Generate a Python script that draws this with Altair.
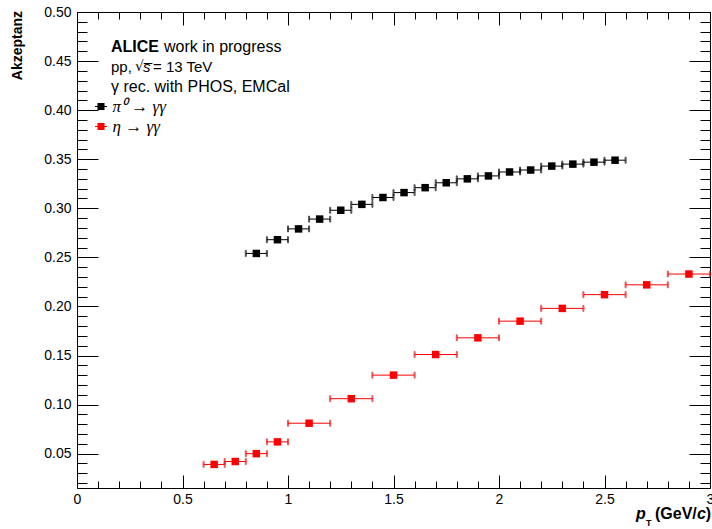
import altair as alt
import pandas as pd

# ---------------- data ----------------
series_names = ["π⁰ → γγ", "η → γγ"]
series_colors = ["#000000", "#ff0000"]

pi0_lo = [0.8, 0.9, 1.0, 1.1, 1.2, 1.3, 1.4, 1.5, 1.6, 1.7, 1.8, 1.9, 2.0, 2.1, 2.2, 2.3, 2.4, 2.5]
pi0_hi = [0.9, 1.0, 1.1, 1.2, 1.3, 1.4, 1.5, 1.6, 1.7, 1.8, 1.9, 2.0, 2.1, 2.2, 2.3, 2.4, 2.5, 2.6]
pi0_val = [0.254, 0.268, 0.279, 0.289, 0.298, 0.304, 0.311, 0.316, 0.321, 0.326,
           0.330, 0.333, 0.337, 0.339, 0.343, 0.345, 0.347, 0.349]

eta_lo = [0.6, 0.7, 0.8, 0.9, 1.0, 1.2, 1.4, 1.6, 1.8, 2.0, 2.2, 2.4, 2.6, 2.8]
eta_hi = [0.7, 0.8, 0.9, 1.0, 1.2, 1.4, 1.6, 1.8, 2.0, 2.2, 2.4, 2.6, 2.8, 3.0]
eta_val = [0.039, 0.042, 0.050, 0.062, 0.081, 0.106, 0.130, 0.151, 0.168, 0.185,
           0.198, 0.212, 0.222, 0.233]

x_major = [0, 0.5, 1, 1.5, 2, 2.5, 3]
x_minor = [0.1, 0.2, 0.3, 0.4, 0.6, 0.7, 0.8, 0.9, 1.1, 1.2, 1.3, 1.4, 1.6, 1.7, 1.8, 1.9,
           2.1, 2.2, 2.3, 2.4, 2.6, 2.7, 2.8, 2.9]
y_major = [0.05, 0.10, 0.15, 0.20, 0.25, 0.30, 0.35, 0.40, 0.45, 0.50]
y_minor = [0.02, 0.03, 0.04, 0.06, 0.07, 0.08, 0.09, 0.11, 0.12, 0.13, 0.14, 0.16, 0.17, 0.18,
           0.19, 0.21, 0.22, 0.23, 0.24, 0.26, 0.27, 0.28, 0.29, 0.31, 0.32, 0.33, 0.34, 0.36,
           0.37, 0.38, 0.39, 0.41, 0.42, 0.43, 0.44, 0.46, 0.47, 0.48, 0.49]

x_domain = [0, 3]
y_domain = [0.015, 0.5]

# ---------------- table ----------------
rows = []
for lo, hi, v in zip(pi0_lo, pi0_hi, pi0_val):
    rows.append({"series": series_names[0], "lo": lo, "hi": hi, "x": (lo + hi) / 2, "y": v})
for lo, hi, v in zip(eta_lo, eta_hi, eta_val):
    rows.append({"series": series_names[1], "lo": lo, "hi": hi, "x": (lo + hi) / 2, "y": v})
df = pd.DataFrame(rows)

W, H = 633, 476
FONT = "Liberation Sans"

xs = alt.Scale(domain=x_domain, nice=False, zero=False)
ys = alt.Scale(domain=y_domain, nice=False, zero=False)
# colour scale for the markers (carries the legend)
cs = alt.Scale(domain=series_names, range=series_colors)
# same mapping for the error bars (listed in reverse so it is kept as a separate, legend-less scale)
cs_err = alt.Scale(domain=series_names[::-1], range=series_colors[::-1])


def tick_axis(orient, values, size, labels=False, fmt="~g", pad=4):
    kw = dict(orient=orient, values=values, tickSize=size, offset=-size, domain=False,
              grid=False, labels=labels, title=None, ticks=True, tickColor="black",
              tickWidth=1, labelFont=FONT, labelFontSize=14, labelColor="black",
              labelPadding=pad, format=fmt)
    if orient in ("bottom", "top"):
        kw["labelFlush"] = False
    return alt.Axis(**kw)


base = alt.Chart(df)

rules = base.mark_rule(strokeWidth=1).encode(
    x=alt.X("lo:Q", scale=xs, axis=tick_axis("bottom", x_major, 13, labels=True, pad=4)),
    x2="hi:Q",
    y=alt.Y("y:Q", scale=ys, axis=tick_axis("left", y_major, 21, labels=True, fmt=".2f", pad=6)),
    stroke=alt.Stroke("series:N", scale=cs_err, legend=None),
)

caps_lo = base.mark_tick(orient="vertical", size=6, thickness=1).encode(
    x=alt.X("lo:Q", scale=xs, axis=tick_axis("bottom", x_minor, 7)),
    y=alt.Y("y:Q", scale=ys, axis=tick_axis("left", y_minor, 10)),
    stroke=alt.Stroke("series:N", scale=cs_err, legend=None),
)

caps_hi = base.mark_tick(orient="vertical", size=6, thickness=1).encode(
    x=alt.X("hi:Q", scale=xs, axis=tick_axis("top", x_major, 13)),
    y=alt.Y("y:Q", scale=ys, axis=tick_axis("right", y_major, 21)),
    stroke=alt.Stroke("series:N", scale=cs_err, legend=None),
)

leg = alt.Legend(
    orient="none", legendX=15.5, legendY=86, title=None, padding=0,
    symbolType="M-0.8,-0.07H0.8V0.07H-0.8Z M-0.47,-0.47H0.47V0.47H-0.47Z",
    symbolSize=225, symbolStrokeWidth=0,
    labelFont="Liberation Serif", labelFontStyle="italic",
    labelFontSize=17, labelColor="black", labelOffset=3, rowPadding=2,
)

squares = base.mark_square(size=56, filled=True, opacity=1).encode(
    x=alt.X("x:Q", scale=xs, axis=tick_axis("top", x_minor, 7)),
    y=alt.Y("y:Q", scale=ys, axis=tick_axis("right", y_minor, 10)),
    color=alt.Color("series:N", scale=cs, legend=leg),
)


def label(txt, x, y, size=16, weight="normal", style="normal", align="left",
          baseline="middle", angle=0, font=FONT):
    return alt.Chart(alt.Data(values=[{}])).mark_text(
        text=txt, fontSize=size, fontWeight=weight, fontStyle=style, align=align,
        baseline=baseline, angle=angle, font=font, color="black",
    ).encode(x=alt.value(x), y=alt.value(y))


ox, oy = 77, 12  # plot-area origin in the page
texts = [
    label("ALICE", 111 - ox, 47 - oy, weight="bold"),
    label("work in progress", 164 - ox, 47 - oy),
    label("pp,", 111 - ox, 67 - oy, size=15),
    label("√", 135 - ox, 67 - oy, size=14, font="DejaVu Sans"),
    label("s̅", 143 - ox, 67 - oy, size=15, style="italic"),
    label("= 13 TeV", 153 - ox, 67 - oy, size=15),
    label("γ rec. with PHOS, EMCal", 111 - ox, 87 - oy),
    # axis titles
    label("Akzeptanz", 18 - ox, 11 - oy, size=14, weight="bold", align="right", angle=270),
    label("p", 636 - ox, 519 - oy, weight="bold", style="italic", baseline="alphabetic"),
    label("T", 646 - ox, 526 - oy, size=9, weight="bold", baseline="alphabetic"),
    label("(GeV/", 655 - ox, 519 - oy, weight="bold", baseline="alphabetic"),
    label("c", 697 - ox, 519 - oy, weight="bold", style="italic", baseline="alphabetic"),
    label(")", 711 - ox, 519 - oy, weight="bold", align="right", baseline="alphabetic"),
]

chart = alt.layer(rules, caps_lo, caps_hi, squares, *texts).resolve_axis(
    x="independent", y="independent"
).properties(
    width=W, height=H,
    padding={"left": ox, "top": oy, "right": 2, "bottom": 41},
    autosize=alt.AutoSizeParams(type="none"),
    background="white",
).configure_view(stroke="black", strokeWidth=1)

chart.save("out.html", embed_options={"renderer": "svg", "actions": False})
